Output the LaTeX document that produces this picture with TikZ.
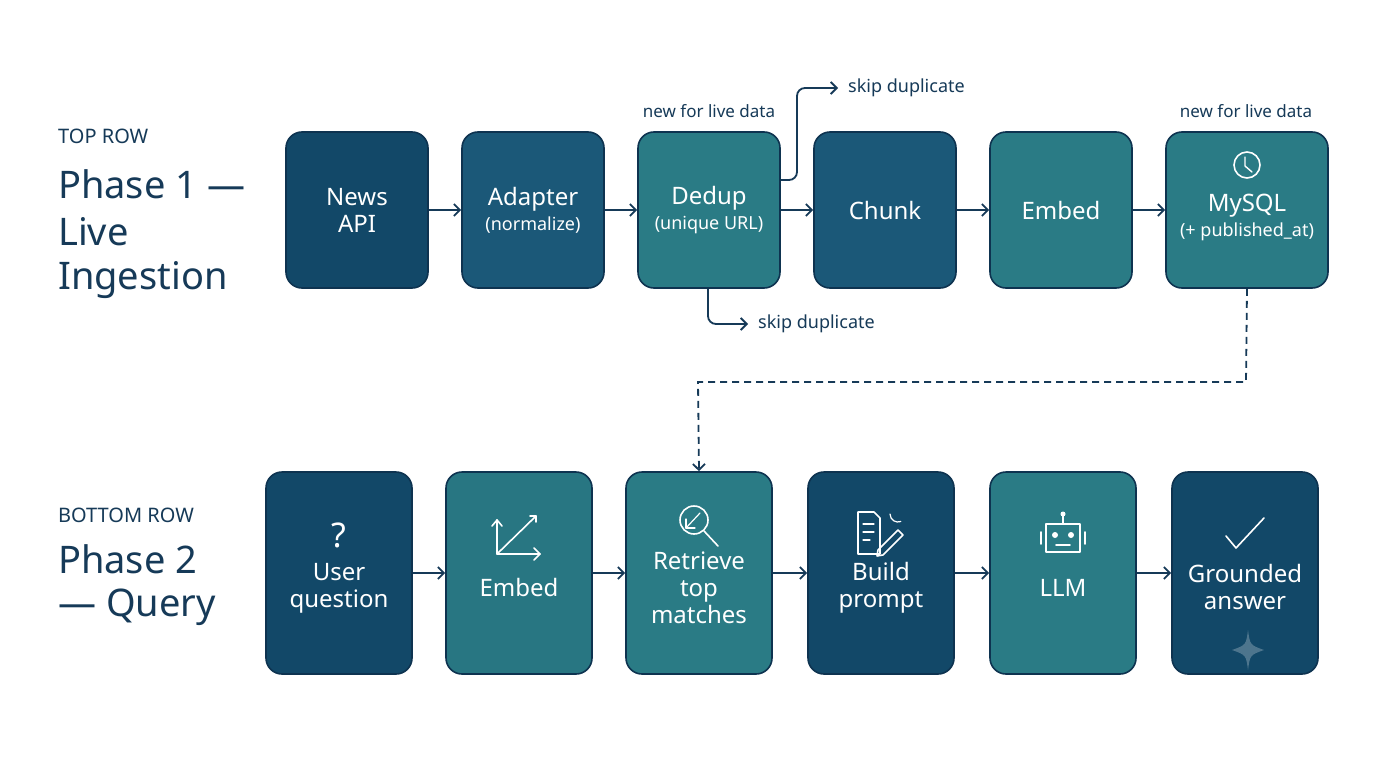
\documentclass[tikz,border=0pt]{standalone}
\usepackage{fontspec}
\setmainfont{Noto Sans}
\usetikzlibrary{arrows.meta,calc}
\newcommand\subf{\fontsize{18}{20}\selectfont}
\definecolor{navy}{HTML}{124868}
\definecolor{mid}{HTML}{1B5878}
\definecolor{teal}{HTML}{2A7B85}
\definecolor{edge}{HTML}{0E3350}
\definecolor{ink}{HTML}{163A58}
\tikzset{
 box/.style={draw=edge,line width=1.6pt,rounded corners=16pt,minimum width=142pt,minimum height=156pt,text=white,align=center,font=\fontsize{24}{27}\selectfont,inner sep=0pt},
 arr/.style={draw=ink,line width=1.8pt,-{Straight Barb[length=6pt,width=12pt]}},
 lab/.style={text=ink,font=\fontsize{18}{20}\selectfont,anchor=west,inner sep=0pt},
 ico/.style={draw=white,line width=1.6pt,line cap=round,line join=round}
}
\begin{document}
\begin{tikzpicture}[x=1pt,y=-1pt]
\useasboundingbox[fill=white] (0,0) rectangle (1376,768);
% left labels
\node[text=ink,anchor=west,inner sep=0pt,font=\fontsize{20}{22}\selectfont] (tr) at (58,136) {TOP ROW};
\node[text=ink,anchor=west,inner sep=0pt,font=\fontsize{38}{40}\bfseries\selectfont] (p1) at (58,184) {Phase 1 —};
\node[text=ink,anchor=west,inner sep=0pt,font=\fontsize{38}{40}\selectfont] (p1a) at (58,232) {Live};
\node[text=ink,anchor=west,inner sep=0pt,font=\fontsize{38}{40}\selectfont] (p1b) at (58,280) {Ingestion};
\node[text=ink,anchor=west,inner sep=0pt,font=\fontsize{20}{22}\selectfont] (br) at (58,515) {BOTTOM ROW};
\node[text=ink,anchor=west,inner sep=0pt,font=\fontsize{38}{40}\bfseries\selectfont] (p2) at (58,559) {Phase 2};
\node[text=ink,anchor=west,inner sep=0pt,font=\fontsize{38}{40}\selectfont] (p2a) at (58,607) {— Query};
% top row
\node[box,fill=navy] (t1) at (357,210) {News\\API};
\node[box,fill=mid] (t2) at (533,210) {Adapter\\[-2pt]{\subf (normalize)}};
\node[box,fill=teal] (t3) at (709,210) {Dedup\\[-2pt]{\subf (unique URL)}};
\node[box,fill=mid] (t4) at (885,210) {Chunk};
\node[box,fill=teal] (t5) at (1061,210) {Embed};
\node[box,fill=teal,minimum width=162pt] (t6) at (1247,210) {\\[6pt]MySQL\\[-2pt]{\subf (+ published\_at)}};
\draw[ico] (1247,165) circle (13pt);
\draw[ico,line width=1.4pt] (1245,157) -- (1245,166) -- (1252,172);
\node[text=ink,font=\fontsize{17}{19}\selectfont,inner sep=0pt] (n1) at (709,111) {new for live data};
\node[text=ink,font=\fontsize{17}{19}\selectfont,inner sep=0pt] (n2) at (1246,111) {new for live data};
\foreach \a/\b in {t1/t2,t2/t3,t3/t4,t4/t5,t5/t6}{\draw[arr] (\a.east) -- (\b.west);}
% skip duplicates
\node[lab] (s1) at (848,88) {skip duplicate};
\node[lab] (s2) at (758,324) {skip duplicate};
\draw[arr,rounded corners=8pt] (t3.east |- 0,180) -- (797,180) -- (797,88) -- ($(s1.west)+(-10,0)$);
\draw[arr,rounded corners=8pt] (t3.south -| 708,0) -- (708,324) -- ($(s2.west)+(-10,0)$);
% bottom row
\tikzset{bbox/.style={box,minimum width=146pt,minimum height=202pt}}
\node[bbox,fill=navy] (b1) at (339,573) {\\[20pt]User\\question};
\node[bbox,fill=teal!90!navy] (b2) at (519,573) {\\[20pt]Embed};
\node[bbox,fill=teal] (b3) at (699,573) {\\[20pt]Retrieve\\top\\matches};
\node[bbox,fill=navy] (b4) at (881,573) {\\[20pt]Build\\prompt};
\node[bbox,fill=teal] (b5) at (1063,573) {\\[20pt]LLM};
\node[bbox,fill=navy] (b6) at (1245,573) {\\[20pt]Grounded\\answer};
\foreach \a/\b in {b1/b2,b2/b3,b3/b4,b4/b5,b5/b6}{\draw[arr] (\a.east) -- (\b.west);}
% dashed
\draw[arr,dash pattern=on 7pt off 5pt] (t6.south) -- (1246,382) -- (698,382) -- (b3.north);
% icons
\node[text=white,font=\fontsize{34}{34}\selectfont,inner sep=0pt] (q) at (339,535) {?};
\draw[ico] (497,520) -- (497,554) -- (540,554);
\draw[ico] (497,554) -- (536,516);
\draw[ico] (530,516)--(536,516)--(536,522);
\draw[ico] (534,548)--(540,554)--(534,560);
\draw[ico] (492,526)--(497,520)--(502,526);
\draw[ico] (694,520) circle (14pt);
\draw[ico] (704,531) -- (718,546);
\draw[ico,line width=1.2pt] (686,528)--(700,513);\draw[ico,line width=1.2pt] (686,528)--(686,519);\draw[ico,line width=1.2pt] (686,528)--(695,528);
\draw[ico] (858,512)--(874,512)--(880,518)--(880,554)--(858,554)--cycle;
\draw[ico,line width=1.2pt] (863,524)--(874,524) (863,532)--(874,532) (863,540)--(870,540);
\draw[ico] (878,550)--(898,530)--(903,535)--(883,555)--(877,556)--cycle;
\draw[ico,line width=1.2pt] (890,514) arc (180:290:8pt);
\draw[ico] (1046,524) rectangle (1080,552);
\draw[ico] (1063,524)--(1063,516); \fill[white] (1063,514) circle (2.5pt);
\fill[white] (1055,535) circle (3pt) (1071,535) circle (3pt);
\draw[ico] (1056,545)--(1070,545);
\draw[ico] (1041,532)--(1041,544) (1085,532)--(1085,544);
\draw[ico] (1226,536)--(1236,548)--(1264,518);
\fill[white,opacity=0.25] (1248,630) .. controls (1250,645) .. (1264,650) .. controls (1250,655) .. (1248,670) .. controls (1246,655) .. (1232,650) .. controls (1246,645) .. (1248,630);
\end{tikzpicture}
\end{document}
